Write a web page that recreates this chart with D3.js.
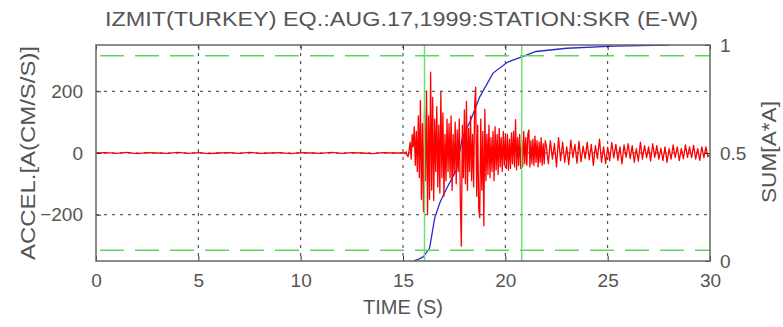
<!DOCTYPE html>
<html>
<head>
<meta charset="utf-8">
<script src="https://cdn.jsdelivr.net/npm/d3@7"></script>
<style>
  html, body { margin: 0; padding: 0; background: #fff; }
  svg text { font-family: "Liberation Sans", Arial, sans-serif; fill: #555; }
</style>
</head>
<body>
<svg id="chart" width="783" height="327"></svg>
<script>
// Data
const titleText = 'IZMIT(TURKEY) EQ.:AUG.17,1999:STATION:SKR (E-W)';
const xLabel = 'TIME (S)';
const yLabelLeft = 'ACCEL.[A(CM/S/S)]';
const yLabelRight = 'SUM[A*A]';

const timeTicks = [0, 5, 10, 15, 20, 25, 30];
const accelTicks = [-200, 0, 200];
const sumTicks = [0, 0.5, 1];

// acceleration record, stored as segments of equally spaced samples
const preEventStart = 0, preEventDt = 0.5;
const preEventAccel = [0, 1, -1, 2, -2, 1, 0, -1, 2, -1, 1, -2, 0, 1, -1, 2, -1, 0, 1, -2, 1, 0, -1, 2, -1, 1, 0, -2, 1, 0];

const strongStart = 15.0, strongDt = 0.05;
const strongAccel = [
    0, 2, -3, 4, -6, -12,
    10, 35, -20, 60, 20, 85,
    -40, 70, -60, 120, -80, 170,
    -150, 95, -190, 140, -90, 200,
    -200, 120, -150, 262, -120, 180,
    -154, 110, -60, 150, -110, 90,
    -130, 200, -80, 130, -140, 60,
    -90, 110, -60, 95, -80, 120,
    -121, 60, -70, 100, -100, 75,
    -60, 110, -150, -302, 90, -80,
    140, -100, 167, -121, 80, -60,
    120, -90, 60, -110, 150, 213,
    -140, 90, -180, -210, 110, -120,
    70, -236, 141, -90, 60, -70,
    90, -80, 50, -60, 70, -90,
    85, -55, 60, -70, 80, -45,
    50, -60, 70, -40, 55, -50,
    60, -56, 45, -50, 65, -35,
    70, -45, 108, -55, 50, -40,
    60, -50, 40, -45, 70, -35,
    50, -40, 60, 75, -45, 40,
    -35, 45, -40, 55, -30, 40,
    -45, 35, -30, 50, -40, 30,
    -35, 40
];

const codaStart = 22.0, codaDt = 0.1;
const codaAccel = [
    25, -35, 40, -20, 30, -45, 50, -25, 35, -30,
    20, -38, 42, -15, 28, -33, 38, -28, 22, -18,
    35, -22, 28, -40, 24, -18, 45, -30, 20, -34,
    18, -25, 34, -16, 28, -24, 20, -35, 26, -14,
    30, -18, 24, -30, 14, -26, 35, -20, 24, -15,
    20, -26, 30, -14, 24, -20, 15, -25, 20, -30,
    14, -20, 26, -15, 20, -25, 15, -18, 26, -14,
    20, -15, 25, -20, 14, -24, 20, -15, 20, -12,
    -5
];

// normalised cumulative sum of a^2 (Husid curve)
const husidTime = [15.5, 15.8, 16.0, 16.3, 16.55, 16.8, 17.1, 17.6, 17.9, 18.3, 18.75, 19.4, 20.1, 20.8, 21.5, 23.0, 25.3, 28.0];
const husidValue = [0, 0.01, 0.02, 0.06, 0.20, 0.27, 0.33, 0.42, 0.57, 0.65, 0.76, 0.87, 0.92, 0.945, 0.97, 0.985, 0.995, 1.0];

// 5% / 95% levels and the significant duration bounds
const sumLevels = [0.05, 0.95];
const durationBounds = [16.05, 20.8];


//Helpers
const translate = (x, y) => `translate(${x}, ${y})`;
const toSamples = (t0, dt, values) => values.map((a, i) => ({ t: t0 + i * dt, a }));

const accelRecord = [
    ...toSamples(preEventStart, preEventDt, preEventAccel),
    ...toSamples(strongStart, strongDt, strongAccel),
    ...toSamples(codaStart, codaDt, codaAccel),
];
const husid = husidTime.map((t, i) => ({ t, s: husidValue[i] }));

//Setup
const width = 783, height = 327;
const margins = { top: 45, right: 73, bottom: 66, left: 96 };
const svg = d3.select('#chart');

const timeScale = d3.scaleLinear([0, 30], [margins.left, width - margins.right]);
const accelScale = d3.scaleLinear([-350, 350], [height - margins.bottom, margins.top]);
const sumScale = d3.scaleLinear([0, 1], [height - margins.bottom, margins.top]);

svg.append('clipPath')
    .attr('id', 'plotClip')
    .append('rect')
    .attr('x', margins.left)
    .attr('y', margins.top)
    .attr('width', width - margins.left - margins.right)
    .attr('height', height - margins.top - margins.bottom);

const plot = svg.append('g').attr('clip-path', 'url(#plotClip)');

//Grid
plot.append('g')
    .selectAll('line')
    .data(timeTicks.slice(1, -1))
    .join('line')
    .attr('x1', d => timeScale(d)).attr('x2', d => timeScale(d))
    .attr('y1', margins.top).attr('y2', height - margins.bottom)
    .attr('stroke', '#333').attr('stroke-width', 1)
    .attr('stroke-dasharray', '3,5');
plot.append('g')
    .selectAll('line')
    .data(accelTicks)
    .join('line')
    .attr('x1', margins.left).attr('x2', width - margins.right)
    .attr('y1', d => accelScale(d)).attr('y2', d => accelScale(d))
    .attr('stroke', '#333').attr('stroke-width', 1)
    .attr('stroke-dasharray', '3,5');

//Husid curve
plot.append('path')
    .datum(husid)
    .attr('fill', 'none')
    .attr('stroke', '#2a2ad0')
    .attr('stroke-width', 1.3)
    .attr('d', d3.line(d => timeScale(d.t), d => sumScale(d.s)));

//Acceleration
plot.append('path')
    .datum(accelRecord)
    .attr('fill', 'none')
    .attr('stroke', '#ff0000')
    .attr('stroke-width', 1.3)
    .attr('stroke-linejoin', 'round')
    .attr('d', d3.line(d => timeScale(d.t), d => accelScale(d.a)));

//5-95% markers
plot.append('g')
    .selectAll('line')
    .data(sumLevels)
    .join('line')
    .attr('x1', margins.left + 4).attr('x2', width - margins.right)
    .attr('y1', d => sumScale(d)).attr('y2', d => sumScale(d))
    .attr('stroke', '#5fd35f').attr('stroke-width', 1.5)
    .attr('stroke-dasharray', '24,11');
plot.append('g')
    .selectAll('line')
    .data(durationBounds)
    .join('line')
    .attr('x1', d => timeScale(d)).attr('x2', d => timeScale(d))
    .attr('y1', margins.top).attr('y2', height - margins.bottom)
    .attr('stroke', '#6ede6e').attr('stroke-width', 1.5);

//Axes
const styleAxis = g => {
    g.select('.domain').remove();
    g.selectAll('.tick line').attr('stroke', '#333').attr('stroke-width', 1);
    g.selectAll('.tick text').attr('fill', '#555').style('font-size', '19px');
};
svg.append('g')
    .attr('transform', translate(0, height - margins.bottom))
    .call(d3.axisBottom(timeScale).tickValues(timeTicks).tickSize(-5).tickPadding(13))
    .call(styleAxis);
svg.append('g')
    .attr('transform', translate(0, margins.top))
    .call(d3.axisTop(timeScale).tickValues(timeTicks).tickSize(-5).tickFormat(''))
    .call(styleAxis);
svg.append('g')
    .attr('transform', translate(margins.left, 0))
    .call(d3.axisLeft(accelScale).tickValues(accelTicks).tickSize(-5).tickPadding(13))
    .call(styleAxis);
svg.append('g')
    .attr('transform', translate(width - margins.right, 0))
    .call(d3.axisRight(sumScale).tickValues(sumTicks).tickSize(-5).tickPadding(10)
        .tickFormat(d => d === 0.5 ? '0.5' : d3.format('d')(d)))
    .call(styleAxis);

//Frame
svg.append('rect')
    .attr('x', margins.left).attr('y', margins.top)
    .attr('width', width - margins.left - margins.right)
    .attr('height', height - margins.top - margins.bottom)
    .attr('fill', 'none')
    .attr('stroke', '#666')
    .attr('stroke-width', 1.5);

//Labels
svg.append('text')
    .attr('x', 105).attr('y', 26)
    .attr('textLength', 593).attr('lengthAdjust', 'spacingAndGlyphs')
    .style('font-size', '20px')
    .text(titleText);
svg.append('text')
    .attr('x', timeScale(15)).attr('y', 314)
    .attr('text-anchor', 'middle')
    .style('font-size', '20px')
    .text(xLabel);
svg.append('text')
    .attr('transform', translate(35, 153) + ' rotate(-90)')
    .attr('text-anchor', 'middle')
    .attr('textLength', 214).attr('lengthAdjust', 'spacingAndGlyphs')
    .style('font-size', '20px')
    .text(yLabelLeft);
svg.append('text')
    .attr('transform', translate(776, 152) + ' rotate(-90)')
    .attr('text-anchor', 'middle')
    .attr('textLength', 102).attr('lengthAdjust', 'spacingAndGlyphs')
    .style('font-size', '20px')
    .text(yLabelRight);
</script>
</body>
</html>
